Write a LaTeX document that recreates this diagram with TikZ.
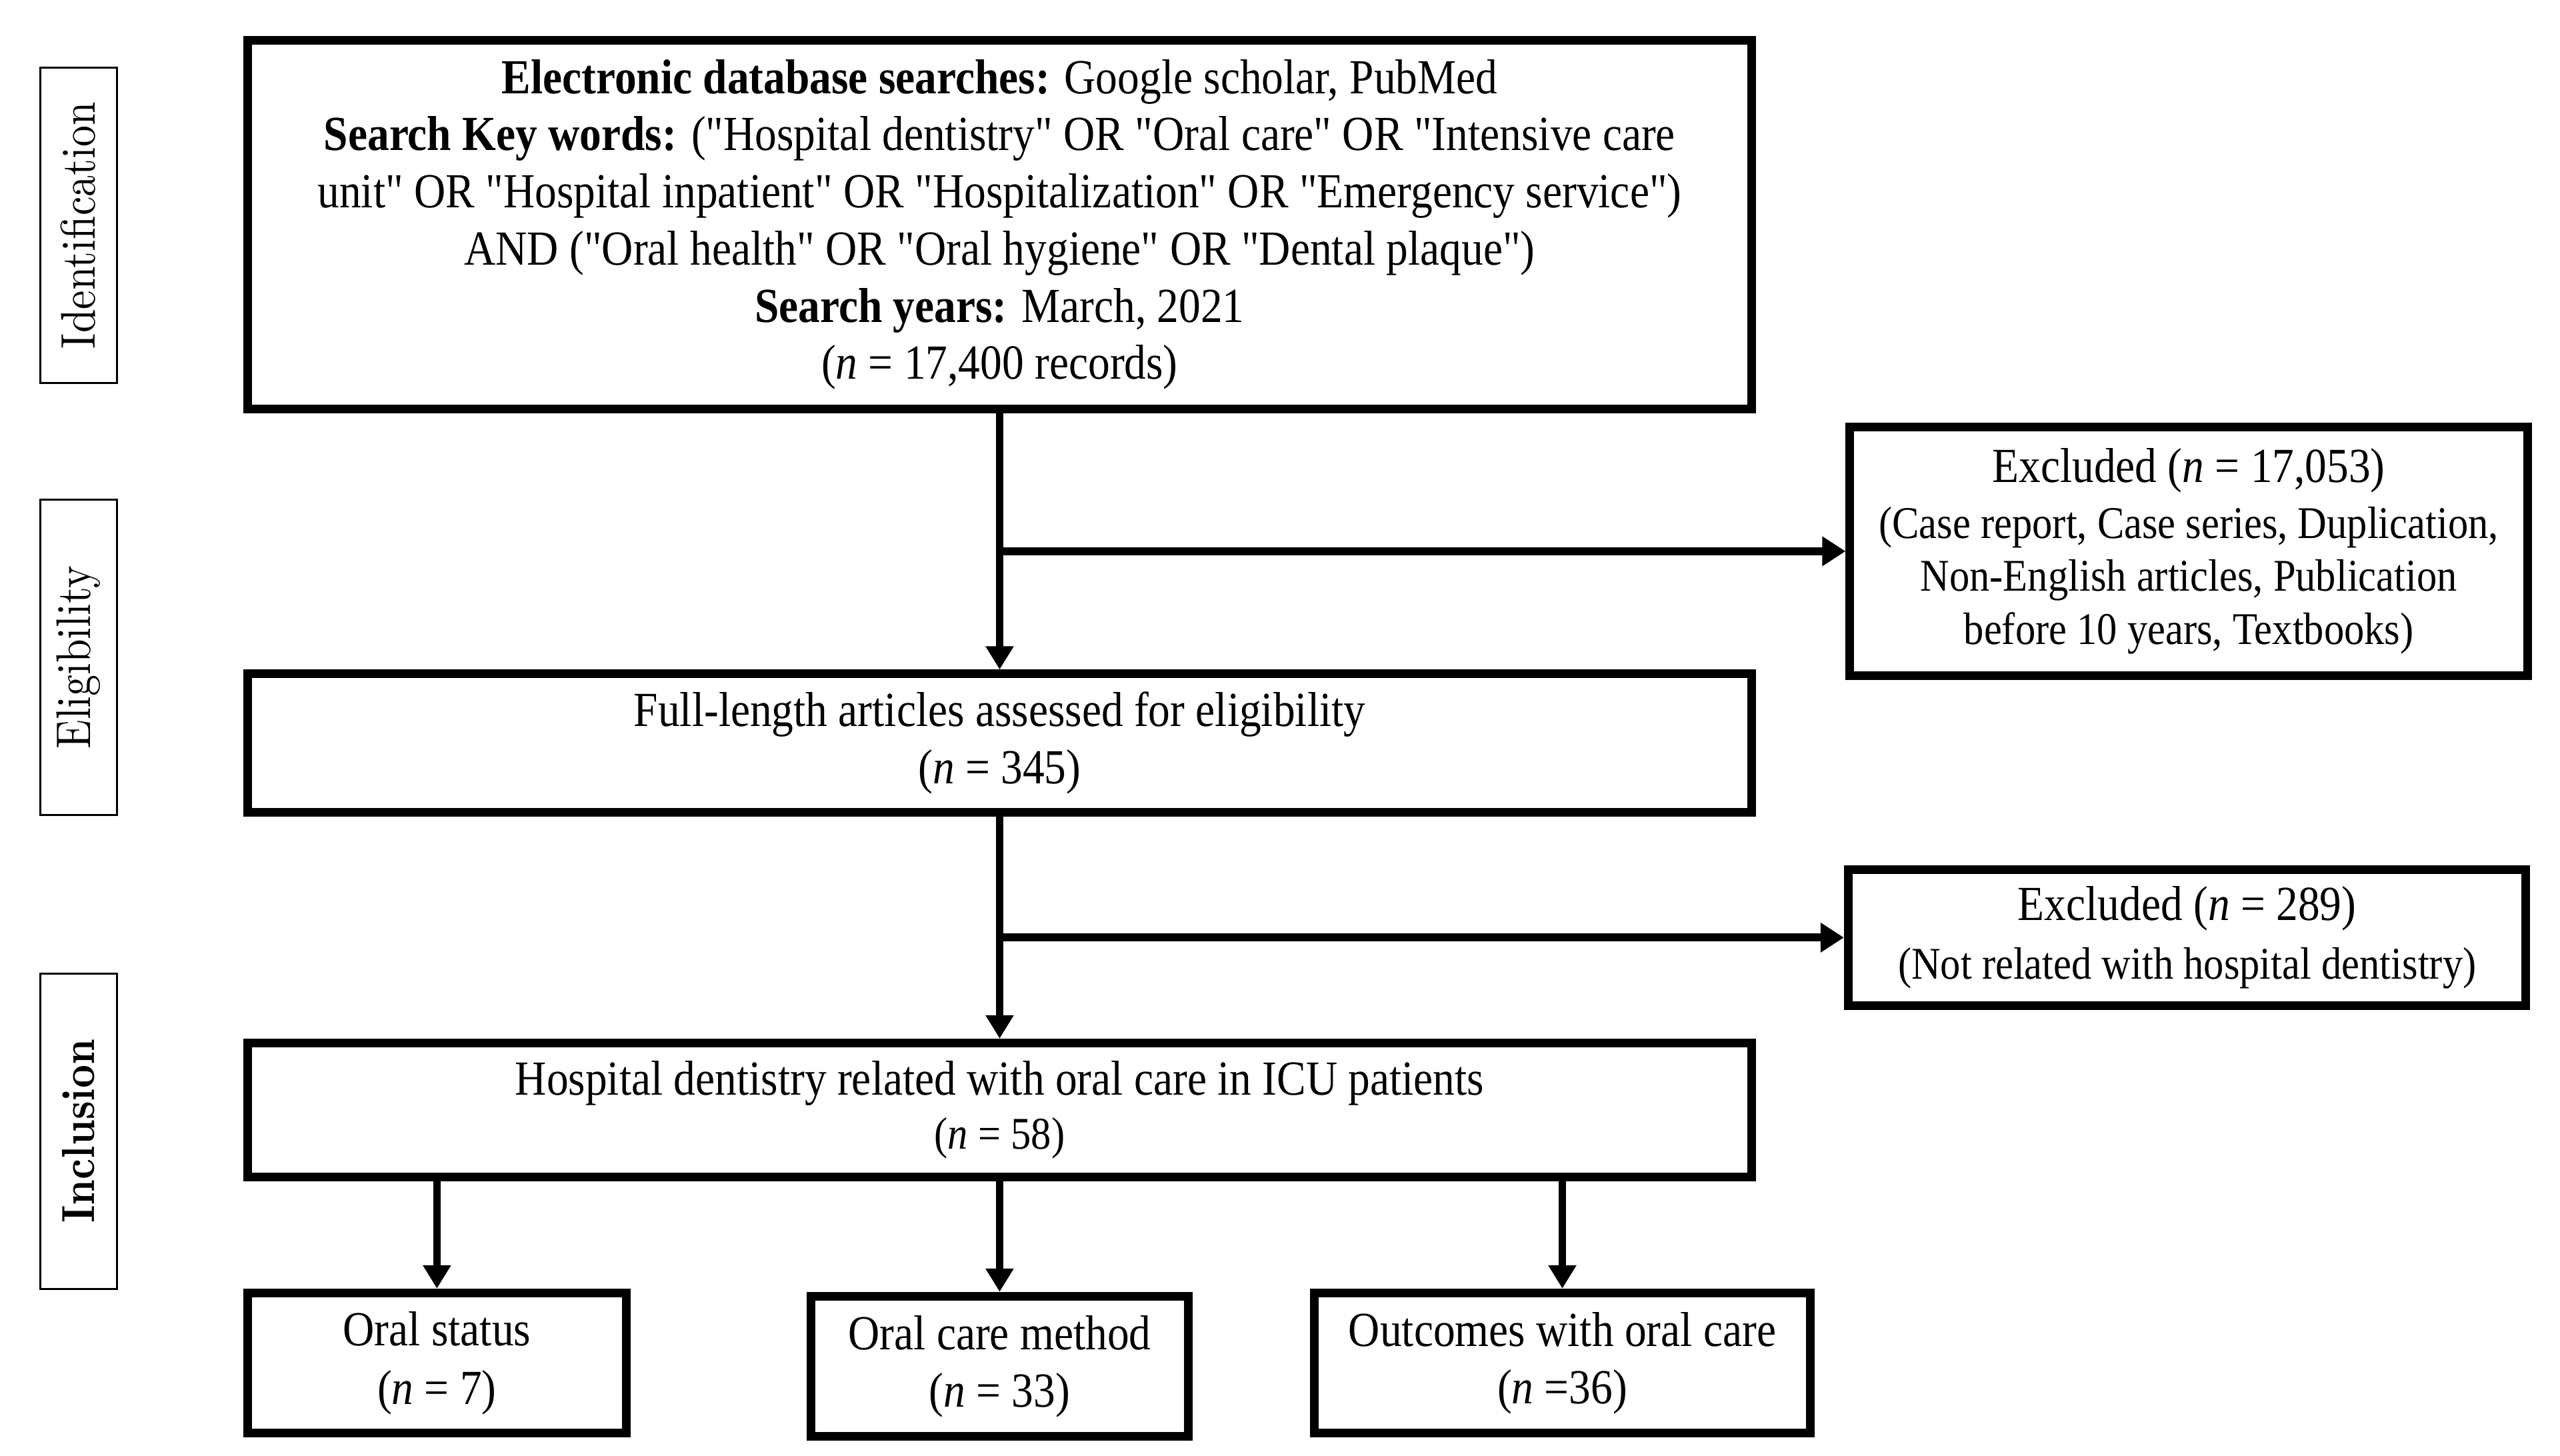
\documentclass[tikz,border=0pt]{standalone}
\usepackage{fontspec}
\usepackage{graphicx}
\setmainfont{Liberation Serif}[FakeStretch=0.89, Ligatures=TeXOff]
\newfontfamily\lmfont{lmroman10}[Extension=.otf, UprightFont=*-regular, BoldFont=*-bold]
\usetikzlibrary{arrows.meta}
\begin{document}
\begin{tikzpicture}[x=0.49pt, y=-0.49pt,
  box/.style={draw, line width=2.6pt, align=center, inner sep=0pt, fill=white},
  side/.style={draw, line width=0.6pt, minimum width=23pt, minimum height=94.6pt, inner sep=0pt},
  vline/.style={line width=2.3pt, -{Triangle[length=7pt,width=8pt]}},
  hline/.style={line width=2.4pt, -{Triangle[length=7pt,width=8.5pt]}},
  sidetext/.style={font=\lmfont\fontsize{12.8}{14}\selectfont}]
\fill[white] (0,0) rectangle (1567.3,891.4);
\useasboundingbox (0,0) rectangle (1567.3,891.4);

% side labels
\node[side, sidetext] (ident) at (48,138) {\rotatebox{90}{\scalebox{1}[1.14]{Identification}}};
\node[side, sidetext] (elig) at (48,402.5) {\rotatebox{90}{\scalebox{1}[1.14]{Eligibility}}};
\node[side, font=\lmfont\bfseries\fontsize{12.2}{14}\selectfont] (incl) at (48,692.5) {\rotatebox{90}{\scalebox{1}[1.14]{Inclusion}}};

% main boxes
\node[box, minimum width=451.3pt, minimum height=110.7pt, font=\fontsize{14.7}{17.15}\selectfont] (top) at (612,137.5)
 {\textbf{Electronic database searches:} Google scholar, PubMed\\
  \textbf{Search Key words:} ("Hospital dentistry" OR "Oral care" OR "Intensive care\\
  unit" OR "Hospital inpatient" OR "Hospitalization" OR "Emergency service")\\
  AND ("Oral health" OR "Oral hygiene" OR "Dental plaque")\\
  \textbf{Search years:} March, 2021\\
  (\textit{n} = 17,400 records)};

\node[box, minimum width=203.3pt, minimum height=74.5pt, font=\fontsize{13.6}{15.9}\selectfont] (exc1) at (1340,337.5)
 {{\fontsize{14.7}{17}\selectfont Excluded (\textit{n} = 17,053)}\\[0.8pt]
  (Case report, Case series, Duplication,\\
  Non-English articles, Publication\\
  before 10 years, Textbooks)};

\node[box, minimum width=451.3pt, minimum height=41.6pt, font=\fontsize{14.7}{17.15}\selectfont] (full) at (612,455)
 {Full-length articles assessed for eligibility\\
  (\textit{n} = 345)};

\node[box, minimum width=203.3pt, minimum height=40.7pt, font=\fontsize{13.6}{17.6}\selectfont] (exc2) at (1339,574)
 {{\fontsize{14.7}{17}\selectfont Excluded (\textit{n} = 289)}\\
  (Not related with hospital dentistry)};

\node[box, minimum width=451.3pt, minimum height=40.2pt, font=\fontsize{13.6}{16.2}\selectfont] (hosp) at (612,679.5)
 {{\fontsize{14.7}{17}\selectfont Hospital dentistry related with oral care in ICU patients}\\
  (\textit{n} = 58)};

\node[box, minimum width=113.7pt, minimum height=42.1pt, font=\fontsize{14.7}{17.6}\selectfont] (os) at (267.5,834.5)
 {Oral status\\ (\textit{n} = 7)};
\node[box, minimum width=113.2pt, minimum height=42.1pt, font=\fontsize{14.7}{17.2}\selectfont] (ocm) at (612,836.5)
 {Oral care method\\ (\textit{n} = 33)};
\node[box, minimum width=148.9pt, minimum height=42.1pt, font=\fontsize{14.7}{17.2}\selectfont] (out) at (956.5,834.5)
 {Outcomes with oral care\\ (\textit{n} =36)};

% connectors
\draw[vline] (top) -- (full);
\draw[hline] (top.south |- exc1.west) -- (exc1.west);
\draw[vline] (full) -- (hosp);
\draw[hline] (full.south |- exc2.west) -- (exc2.west);
\draw[vline] (hosp.south -| os.north) -- (os.north);
\draw[vline] (hosp.south -| ocm.north) -- (ocm.north);
\draw[vline] (hosp.south -| out.north) -- (out.north);
\end{tikzpicture}
\end{document}
